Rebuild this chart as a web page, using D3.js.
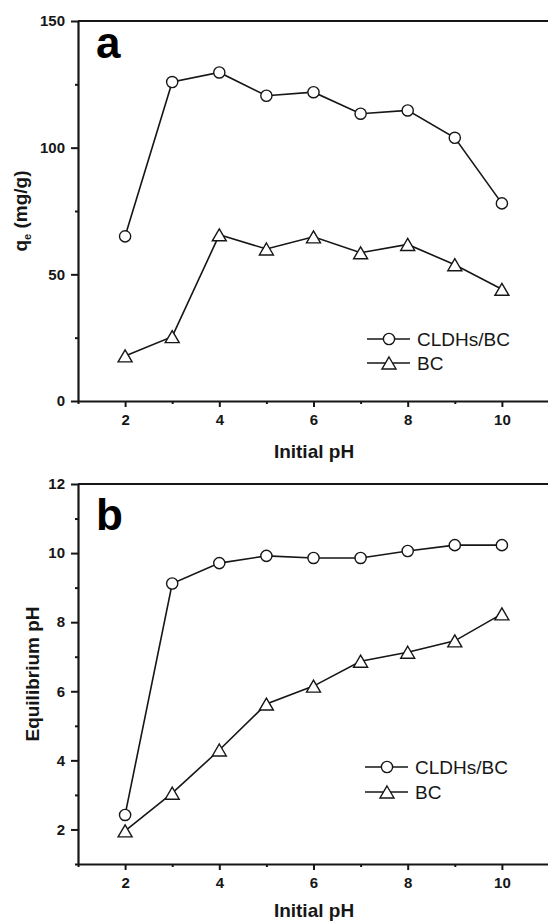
<!DOCTYPE html>
<html><head><meta charset="utf-8">
<script src="https://cdn.jsdelivr.net/npm/d3@7"></script>
<style>
html,body{margin:0;padding:0;background:#fff;}
svg{display:block;font-family:"Liberation Sans",Arial,sans-serif;}
</style></head>
<body>
<svg id="chart" width="548" height="923"></svg>
<script>
// ---- data ----
const initialPH = [2, 3, 4, 5, 6, 7, 8, 9, 10];
const qeCLDHs = [65.0, 125.9, 129.7, 120.5, 121.9, 113.4, 114.7, 103.9, 78.0];
const qeBC = [17.8, 25.4, 65.6, 60.0, 64.8, 58.5, 61.8, 53.8, 44.1];
const eqCLDHs = [2.42, 9.12, 9.71, 9.92, 9.86, 9.86, 10.06, 10.23, 10.23];
const eqBC = [1.96, 3.05, 4.30, 5.63, 6.15, 6.87, 7.13, 7.46, 8.24];
const xMajorTicks = [2, 4, 6, 8, 10];
const xMinorTicks = [1, 3, 5, 7, 9, 11];
const qeMajorTicks = [0, 50, 100, 150];
const qeMinorTicks = [25, 75, 125];
const eqMajorTicks = [2, 4, 6, 8, 10, 12];
const eqMinorTicks = [1, 3, 5, 7, 9, 11];
const seriesNames = ["CLDHs/BC", "BC"];

const svg = d3.select("#chart");
const ink = "#161616";

function triPath(w, h) {
  return `M0,${-h/2}L${w/2},${h/2}L${-w/2},${h/2}Z`;
}

function panel(opt) {
  const x = d3.scaleLinear().domain([1, 11]).range([78, 549]);
  const y = d3.scaleLinear().domain(opt.yDomain).range([opt.yBottom, opt.yTop]);
  const g = svg.append("g");

  const xa = g.append("g").attr("transform", `translate(0,${opt.yBottom})`)
    .call(d3.axisBottom(x).tickValues(xMajorTicks).tickSize(6).tickSizeOuter(0).tickPadding(4));
  g.append("g").attr("transform", `translate(0,${opt.yBottom})`)
    .call(d3.axisBottom(x).tickValues(xMinorTicks).tickSize(3).tickSizeOuter(0).tickFormat(""))
    .select(".domain").remove();
  g.append("g").attr("transform", `translate(78,0)`)
    .call(d3.axisLeft(y).tickValues(opt.yMajor).tickSize(7).tickSizeOuter(0).tickPadding(6));
  g.append("g").attr("transform", `translate(78,0)`)
    .call(d3.axisLeft(y).tickValues(opt.yMinor).tickSize(3).tickSizeOuter(0).tickFormat(""))
    .select(".domain").remove();

  g.selectAll(".domain").attr("stroke", ink).attr("stroke-width", 2.2);
  g.selectAll(".tick line").attr("stroke", ink).attr("stroke-width", 2);
  g.selectAll(".tick text").attr("fill", ink).attr("font-size", 15).attr("font-weight", "bold")
    .attr("font-family", '"Liberation Sans",Arial,sans-serif');
  xa.selectAll(".tick text").attr("dy", "0.9em");

  g.append("line").attr("x1", 78).attr("x2", 560)
    .attr("y1", y(opt.yDomain[1])).attr("y2", y(opt.yDomain[1]))
    .attr("stroke", ink).attr("stroke-width", 2.2);

  g.append("text").attr("x", 314).attr("y", opt.yBottom + opt.xTitleDy)
    .attr("text-anchor", "middle").attr("font-size", 19).attr("font-weight", "bold")
    .attr("fill", ink).text("Initial pH");

  const yt = g.append("text")
    .attr("transform", `translate(${opt.yTitleX},${(opt.yTop + opt.yBottom) / 2}) rotate(-90)`)
    .attr("text-anchor", "middle").attr("font-size", 19).attr("font-weight", "bold").attr("fill", ink);
  opt.yTitle(yt);

  g.append("text").attr("x", 96).attr("y", opt.yTop + opt.letterDy)
    .attr("font-size", 44).attr("font-weight", "bold").attr("fill", "#000").text(opt.letter);

  const line = d3.line().x((d, i) => x(initialPH[i])).y(d => y(d));
  [opt.s1, opt.s2].forEach(s => {
    g.append("path").datum(s).attr("d", line)
      .attr("fill", "none").attr("stroke", ink).attr("stroke-width", 1.6);
  });
  g.selectAll(".c").data(opt.s1).enter().append("circle")
    .attr("cx", (d, i) => x(initialPH[i])).attr("cy", d => y(d)).attr("r", 5.6)
    .attr("fill", "#fff").attr("stroke", ink).attr("stroke-width", 1.4);
  g.selectAll(".t").data(opt.s2).enter().append("path")
    .attr("d", triPath(14, 12))
    .attr("transform", (d, i) => `translate(${x(initialPH[i])},${y(d)})`)
    .attr("fill", "#fff").attr("stroke", ink).attr("stroke-width", 1.4);

  const lg = g.append("g");
  seriesNames.forEach((name, k) => {
    const ly = opt.legendY[k];
    lg.append("line").attr("x1", opt.legendX).attr("x2", opt.legendX + 43)
      .attr("y1", ly).attr("y2", ly).attr("stroke", ink).attr("stroke-width", 1.6);
    if (k === 0) {
      lg.append("circle").attr("cx", opt.legendX + 22).attr("cy", ly).attr("r", 5.6)
        .attr("fill", "#fff").attr("stroke", ink).attr("stroke-width", 1.4);
    } else {
      lg.append("path").attr("d", triPath(14, 12))
        .attr("transform", `translate(${opt.legendX + 22},${ly})`)
        .attr("fill", "#fff").attr("stroke", ink).attr("stroke-width", 1.4);
    }
    lg.append("text").attr("x", opt.legendX + 50).attr("y", ly + 7)
      .attr("font-size", 19).attr("fill", ink).text(name);
  });
}

panel({
  yDomain: [0, 150], yTop: 21, yBottom: 401,
  yMajor: qeMajorTicks, yMinor: qeMinorTicks,
  s1: qeCLDHs, s2: qeBC, letter: "a", letterDy: 37, xTitleDy: 57,
  legendX: 367, legendY: [339, 363],
  yTitleX: 27,
  yTitle: t => {
    t.append("tspan").text("q");
    t.append("tspan").attr("font-size", 11).attr("dy", 4).text("e");
    t.append("tspan").attr("dy", -4).text(" (mg/g)");
  }
});

panel({
  yDomain: [1, 12], yTop: 484, yBottom: 864,
  yMajor: eqMajorTicks, yMinor: eqMinorTicks,
  s1: eqCLDHs, s2: eqBC, letter: "b", letterDy: 46, xTitleDy: 53,
  legendX: 365, legendY: [767, 792],
  yTitleX: 39,
  yTitle: t => t.text("Equilibrium pH")
});
</script>
</body></html>
